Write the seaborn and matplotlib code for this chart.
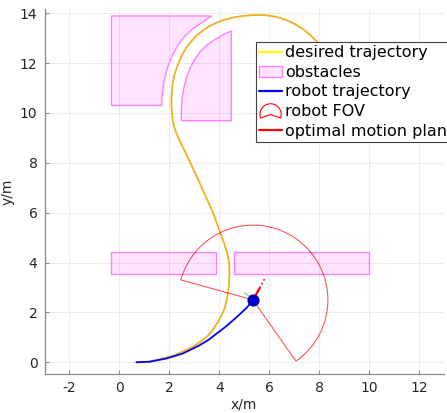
import numpy as np
import pandas as pd
import matplotlib
matplotlib.use("Agg")
import matplotlib.pyplot as plt
import seaborn as sns
from matplotlib.patches import Wedge, Patch
from matplotlib.lines import Line2D
from matplotlib.legend_handler import HandlerPatch

# ---------------- data ----------------
desired_x = [0.70, 0.94, 1.20, 1.61, 2.14, 2.68, 2.94, 3.21, 3.50, 3.74, 3.95, 4.10, 4.21, 4.31,
             4.38, 4.41, 4.40, 4.36, 4.29, 4.20, 4.10, 4.01, 3.74, 3.41, 3.08, 2.74, 2.41, 2.22, 2.14,
             2.10, 2.08, 2.10, 2.14, 2.22, 2.35, 2.50, 2.68, 2.88, 3.08, 3.33, 3.61, 3.94, 4.28,
             4.60, 4.94, 5.28, 5.61, 5.95, 6.30, 6.65, 7.00, 7.33, 7.62, 7.90, 8.15, 8.38, 8.57,
             8.72, 8.82, 8.86]
desired_y = [0.00, 0.00, 0.03, 0.12, 0.26, 0.49, 0.62, 0.80, 1.02, 1.29, 1.62, 1.90, 2.15, 2.55,
             3.02, 3.60, 3.90, 4.20, 4.48, 4.75, 5.03, 5.29, 6.02, 6.76, 7.49, 8.22, 8.89, 9.35, 9.69,
             10.05, 10.42, 10.85, 11.22, 11.60, 11.96, 12.30, 12.62, 12.87, 13.09, 13.30, 13.49, 13.64, 13.76,
             13.84, 13.89, 13.92, 13.93, 13.91, 13.85, 13.74, 13.58, 13.38, 13.15, 12.88, 12.57, 12.20, 11.80,
             11.35, 10.90, 10.45]

robot_x = [0.68, 1.21, 1.88, 2.54, 3.21, 3.60, 3.88, 4.25, 4.55, 4.85, 5.08, 5.28, 5.35]
robot_y = [0.00, 0.02, 0.15, 0.35, 0.68, 0.92, 1.14, 1.42, 1.68, 1.95, 2.17, 2.40, 2.50]

obstacle1_x = [-0.32, 3.68, 3.30, 2.94, 2.62, 2.36, 2.14, 1.97, 1.84, 1.75, 1.70, 1.70, -0.32]
obstacle1_y = [13.89, 13.89, 13.62, 13.38, 13.08, 12.75, 12.35, 11.95, 11.50, 11.05, 10.60, 10.30, 10.30]
obstacle2_x = [2.48, 2.48, 2.51, 2.58, 2.68, 2.81, 3.00, 3.21, 3.50, 3.88, 4.18, 4.48, 4.48]
obstacle2_y = [9.69, 10.16, 10.60, 11.00, 11.40, 11.76, 12.12, 12.43, 12.72, 12.98, 13.16, 13.29, 9.69]
obstacle3_x = [-0.32, 3.87, 3.87, -0.32]
obstacle3_y = [3.53, 3.53, 4.41, 4.41]
obstacle4_x = [4.59, 9.98, 9.98, 4.59]
obstacle4_y = [3.53, 3.53, 4.41, 4.41]

robot_pos = (5.35, 2.50)
plan_solid_x = [5.35, 5.62]
plan_solid_y = [2.50, 2.98]
plan_dot_x = [5.62, 5.85]
plan_dot_y = [2.98, 3.41]
frame_x = [5.00, 5.30]
frame_y = [2.78, 2.60]

fov_radius = 3.0
fov_theta1 = -55.0
fov_theta2 = 164.5

xticks = [-2, 0, 2, 4, 6, 8, 10, 12]
yticks = [0, 2, 4, 6, 8, 10, 12, 14]

# ---------------- style ----------------
sns.set_style("whitegrid", {"grid.color": "#ebebeb", "axes.edgecolor": "#8a8a8a"})
plt.rcParams["font.family"] = ["DejaVu Sans"]

fig = plt.figure(figsize=(4.47, 4.13), dpi=100)
ax = fig.add_axes([44.5 / 447, (413 - 373.7) / 413, 399.5 / 447, 364.7 / 413])

c_orange = "#EDB120"
c_blue = "#0000FF"
c_red = "#FF0000"
c_mag_edge = "#FF80FF"
c_mag_face = (1.0, 0.0, 1.0, 0.11)

for ox, oy in [(obstacle1_x, obstacle1_y), (obstacle2_x, obstacle2_y),
               (obstacle3_x, obstacle3_y), (obstacle4_x, obstacle4_y)]:
    ax.fill(ox, oy, facecolor=c_mag_face, edgecolor=c_mag_edge, lw=1.0, zorder=2)

df_des = pd.DataFrame({"x": desired_x, "y": desired_y})
sns.lineplot(data=df_des, x="x", y="y", sort=False, estimator=None, color=c_orange, lw=1.3, ax=ax, zorder=3)

fov = Wedge(robot_pos, fov_radius, fov_theta1, fov_theta2, fill=False, edgecolor=c_red, lw=0.7, alpha=0.75, zorder=4)
ax.add_patch(fov)

df_rob = pd.DataFrame({"x": robot_x, "y": robot_y})
sns.lineplot(data=df_rob, x="x", y="y", sort=False, estimator=None, color=c_blue, lw=1.3, ax=ax, zorder=5)

ax.plot(frame_x, frame_y, color="#7fe07f", lw=1.0, zorder=5)
ax.plot(plan_solid_x, plan_solid_y, color=c_red, lw=1.6, zorder=6)
ax.plot(plan_dot_x, plan_dot_y, color=c_red, lw=1.2, ls=(0, (1, 1.5)), zorder=6)
ax.scatter([robot_pos[0]], [robot_pos[1]], s=60, color="#0000CC", edgecolor="#0000AA", zorder=7, marker="o")

ax.set_xlim(-3, 13)
ax.set_ylim(-0.46, 14.17)
ax.set_xticks(xticks)
ax.set_yticks(yticks)
ax.set_xticklabels([str(t) for t in xticks])
ax.set_yticklabels([str(t) for t in yticks])
ax.tick_params(direction="in", length=3, width=0.8, color="#8a8a8a", labelsize=10, labelcolor="#262626", pad=5,
               bottom=True, left=True)
ax.grid(True, color="#e8e8e8", lw=0.6)
for s in ["top", "right"]:
    ax.spines[s].set_visible(False)
for s in ["left", "bottom"]:
    ax.spines[s].set_color("#8a8a8a")
    ax.spines[s].set_linewidth(0.9)
ax.set_xlabel("x/m", fontsize=10, color="#262626", labelpad=2)
ax.set_ylabel("y/m", fontsize=10, color="#262626", labelpad=4)


class HandlerFOV(HandlerPatch):
    def create_artists(self, legend, orig_handle, xdescent, ydescent, width, height, fontsize, trans):
        cx = -xdescent + width / 2
        cy = -ydescent + height * 0.15
        r = width * 0.47
        w = Wedge((cx, cy), r, -20, 200, fill=False, edgecolor=c_red, lw=0.8)
        w.set_transform(trans)
        return [w]


h_des = Line2D([], [], color="#FFFF00", lw=1.6)
h_obs = Patch(facecolor=c_mag_face, edgecolor=c_mag_edge, lw=1.0)
h_rob = Line2D([], [], color=c_blue, lw=1.6)
h_fov = Patch(facecolor="none", edgecolor=c_red)
h_plan = Line2D([], [], color=c_red, lw=1.6)
labels = ["desired trajectory", "obstacles", "robot trajectory", "robot FOV", "optimal motion plan"]
leg = fig.legend([h_des, h_obs, h_rob, h_fov, h_plan], labels,
                 loc="upper left", bbox_to_anchor=(255.7 / 447, 1 - 41.7 / 413), bbox_transform=fig.transFigure,
                 borderaxespad=0, fancybox=False, framealpha=1, edgecolor="#404040", fontsize=11.5,
                 handlelength=1.42, handletextpad=0.2, labelspacing=0.29, borderpad=0.22,
                 handler_map={h_fov: HandlerFOV()})
leg.get_frame().set_linewidth(0.8)
for t in leg.get_texts():
    t.set_color("#000000")

fig.savefig("out.png", dpi=100)
